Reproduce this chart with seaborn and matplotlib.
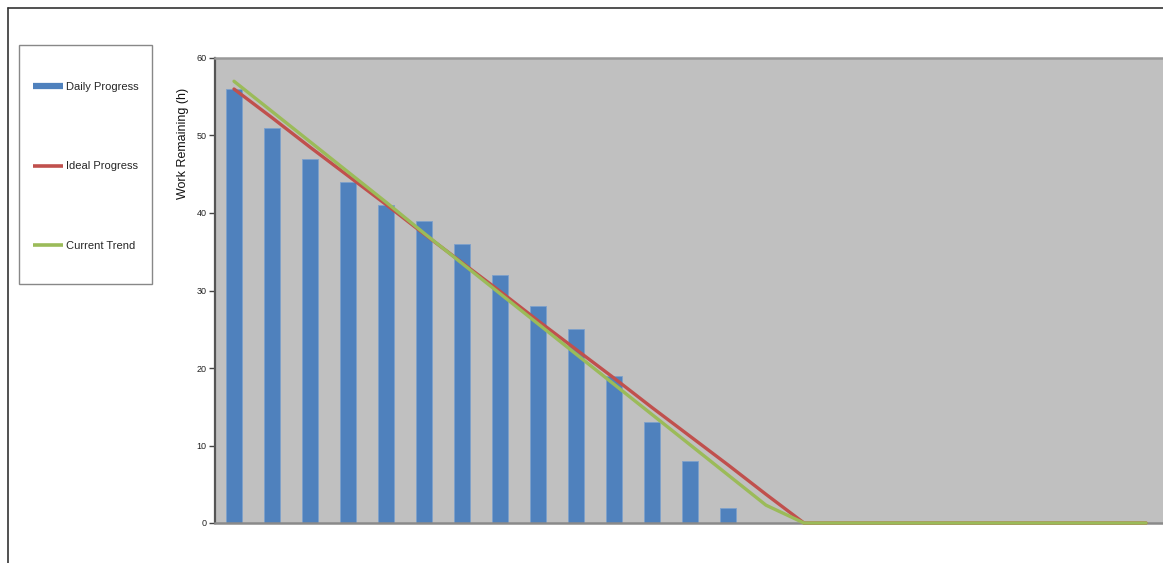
import matplotlib
matplotlib.use("Agg")
import matplotlib.pyplot as plt
from matplotlib.lines import Line2D
from matplotlib.patches import Rectangle
import seaborn as sns
import pandas as pd
import numpy as np

# ---- data ----
days = [str(i) for i in range(1, 26)]
daily_progress = [56, 51, 47, 44, 41, 39, 36, 32, 28, 25, 19, 13, 8, 2]
ideal_progress = [56.0, 52.3, 48.5, 44.8, 41.1, 37.3, 33.6, 29.9, 26.1, 22.4,
                  18.7, 14.9, 11.2, 7.5, 3.7, 0, 0, 0, 0, 0, 0, 0, 0, 0, 0]
current_trend = [57.0, 53.1, 49.2, 45.3, 41.4, 37.4, 33.5, 29.6, 25.7, 21.8,
                 17.9, 14.0, 10.1, 6.2, 2.3, 0, 0, 0, 0, 0, 0, 0, 0, 0, 0]
y_ticks = [0, 10, 20, 30, 40, 50, 60]

sns.set_style("white")
plt.rcParams["font.family"] = ["Liberation Sans", "DejaVu Sans"]

W, H = 1163, 563
fig = plt.figure(figsize=(W / 100, H / 100), dpi=100)
ax = fig.add_axes([215 / W, (H - 523) / H, 950 / W, 465 / H])

bar_df = pd.DataFrame({"day": days[:len(daily_progress)], "work": daily_progress})
sns.barplot(data=bar_df, x="day", y="work", order=days, ax=ax,
            color="#4F81BD", width=0.4, edgecolor="#7DA0CC", linewidth=0.6,
            saturation=1)

pos = np.arange(len(days))
sns.lineplot(x=pos, y=ideal_progress, ax=ax, color="#C0504D", linewidth=2.4,
             zorder=4, clip_on=False)
sns.lineplot(x=pos, y=current_trend, ax=ax, color="#9BBB59", linewidth=2.4,
             zorder=5, clip_on=False)

ax.set_facecolor("#C0C0C0")
ax.set_xlim(-0.5, len(days) - 0.5)
ax.set_ylim(0, 60)
ax.set_yticks(y_ticks)
ax.set_yticklabels([str(t) for t in y_ticks], fontsize=6.5, color="#222222")
ax.set_xticks([])
ax.set_xlabel("")
ax.set_ylabel("Work Remaining (h)", fontsize=9, color="#111111")
ax.yaxis.set_label_coords(-0.027, 0.817)
ax.tick_params(axis="y", direction="out", length=4, width=1, color="#444444",
               left=True, pad=2)
ax.spines["left"].set_color("#555555")
ax.spines["left"].set_linewidth(1.6)
ax.spines["bottom"].set_color("#8A8A8A")
ax.spines["bottom"].set_linewidth(1.8)
ax.spines["top"].set_visible(True)
ax.spines["top"].set_color("#999999")
ax.spines["top"].set_linewidth(1.8)
ax.spines["right"].set_visible(False)

# outer frame (top and left edges)
fig.add_artist(Line2D([8 / W, 1], [1 - 8 / H, 1 - 8 / H], transform=fig.transFigure,
                      color="#333333", linewidth=1.2))
fig.add_artist(Line2D([8 / W, 8 / W], [0, 1 - 8 / H], transform=fig.transFigure,
                      color="#333333", linewidth=1.2))

# legend box
fig.add_artist(Rectangle((19 / W, (H - 284) / H), 133 / W, 239 / H,
                         transform=fig.transFigure, facecolor="white",
                         edgecolor="#888888", linewidth=1.0))
handles = [Line2D([0], [0], color="#4F81BD", linewidth=4.5, solid_capstyle="butt"),
           Line2D([0], [0], color="#C0504D", linewidth=2.6, solid_capstyle="butt"),
           Line2D([0], [0], color="#9BBB59", linewidth=2.6, solid_capstyle="butt")]
labels = ["Daily Progress", "Ideal Progress", "Current Trend"]
fig.legend(handles, labels, loc="upper left",
           bbox_to_anchor=(33 / W, 1 - 82 / H), borderaxespad=0, borderpad=0,
           frameon=False, fontsize=8, handlelength=2.7, handletextpad=0.25,
           labelspacing=6.25)

fig.savefig("out.png", dpi=100)
